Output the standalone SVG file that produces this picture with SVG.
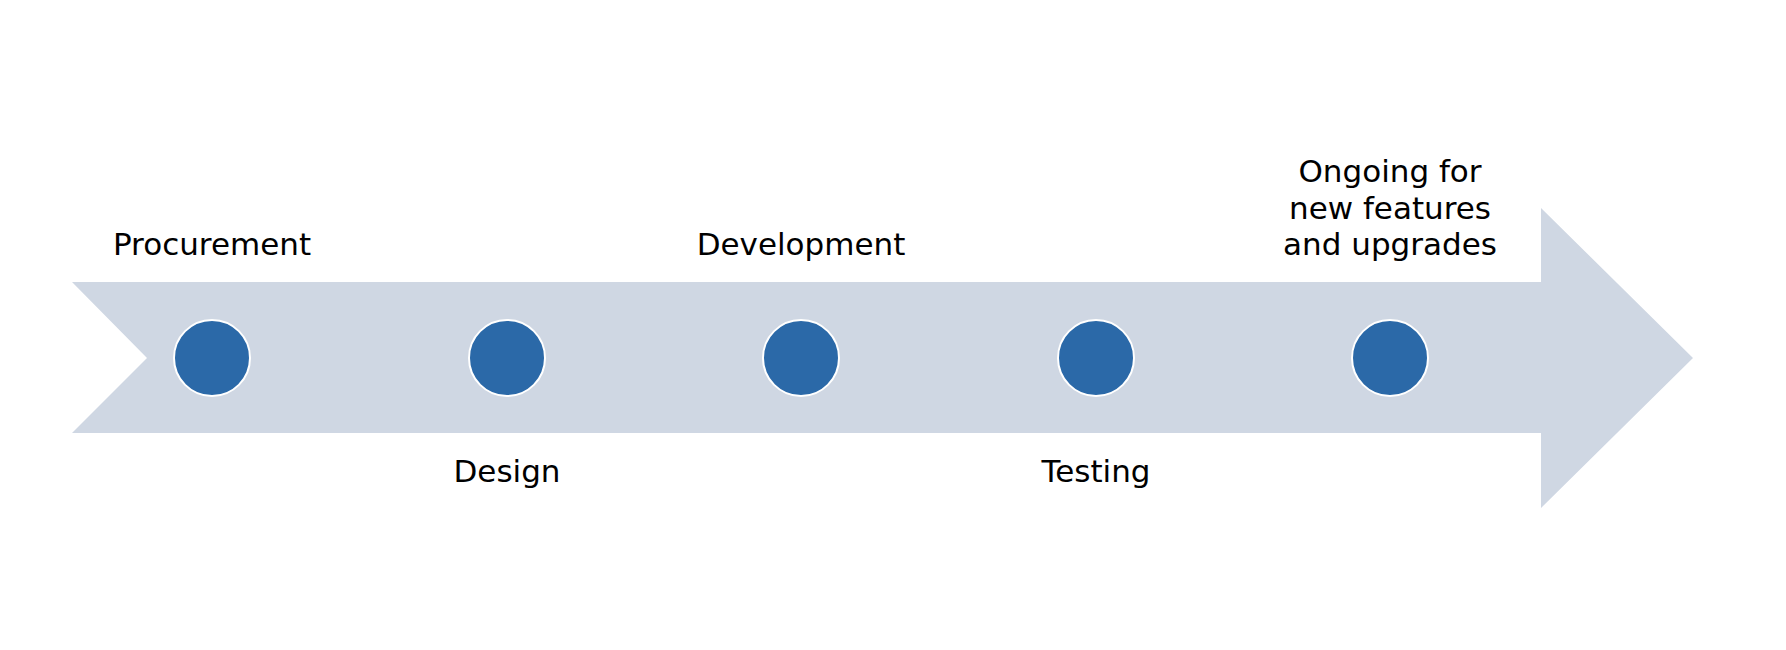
<svg xmlns="http://www.w3.org/2000/svg" width="1786" height="650" viewBox="0 0 1786 650">
<style>
.dot{fill:#2b69a8;stroke:#ffffff;stroke-width:2}
.lbl{font-family:"DejaVu Sans",Verdana,sans-serif;font-size:31px;fill:#000;text-anchor:middle}
</style>
<rect width="1786" height="650" fill="#ffffff"/>
<g id="arrow"><polygon points="72,282 1541,282 1541,208 1693,358 1541,508 1541,433 72,433 147,358" fill="#cfd7e3"/></g>
<g id="connectors"></g>
<g id="n1"><circle class="dot" cx="212" cy="358" r="38"/><text class="lbl" x="212" y="255">Procurement</text></g>
<g id="n2"><circle class="dot" cx="507" cy="358" r="38"/><text class="lbl" x="507" y="482">Design</text></g>
<g id="n3"><circle class="dot" cx="801" cy="358" r="38"/><text class="lbl" x="801" y="255">Development</text></g>
<g id="n4"><circle class="dot" cx="1096" cy="358" r="38"/><text class="lbl" x="1096" y="482">Testing</text></g>
<g id="n5"><circle class="dot" cx="1390" cy="358" r="38"/><text class="lbl" x="1390" y="182">Ongoing for</text><text class="lbl" x="1390" y="219">new features</text><text class="lbl" x="1390" y="255">and upgrades</text></g>
</svg>
